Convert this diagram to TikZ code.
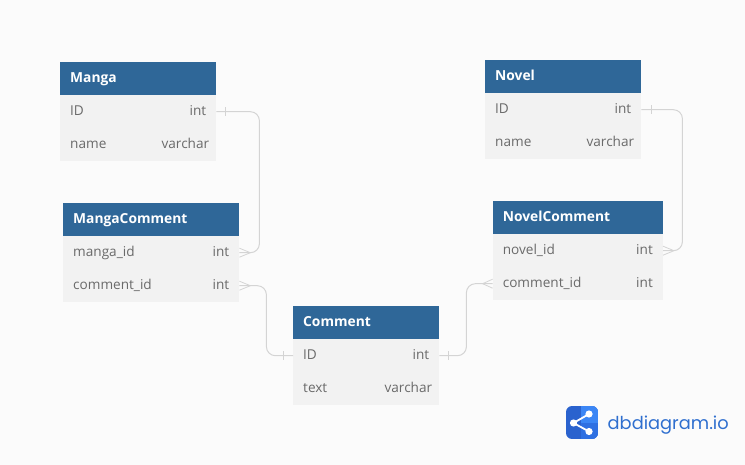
\documentclass[tikz,border=0pt]{standalone}
\usepackage{fontspec}
\setmainfont{Open Sans}
\newfontfamily\logofont{Poppins}
\definecolor{bgc}{HTML}{FBFBFB}
\definecolor{headc}{HTML}{2F6798}
\definecolor{rowc}{HTML}{F2F2F2}
\definecolor{txtc}{HTML}{6A6A6A}
\definecolor{linec}{HTML}{D4D4D4}
\definecolor{logoa}{HTML}{2A62CE}
\definecolor{logob}{HTML}{3B86F5}
\definecolor{logoc}{HTML}{2F70E2}
\definecolor{logot}{HTML}{2F6FCF}
\tikzset{
  x=1pt,y=-1pt,
  head/.style={anchor=north west,inner sep=0pt,fill=headc,minimum height=33pt},
  rowbox/.style={anchor=north west,inner sep=0pt,fill=rowc,minimum height=33pt},
  lab/.style={inner sep=0pt,text=txtc,font=\fontsize{13.6}{14}\selectfont},
  conn/.style={draw=linec,line width=1pt,rounded corners=9pt},
  mk/.style={draw=linec,line width=0.8pt}
}
\newcommand{\tablehead}[5]{% name, x, y, width, text
  \node[head,minimum width=#4pt] (#1) at (#2,#3) {};
  \node[anchor=base west,inner sep=0pt,text=white,font=\fontsize{13.8}{14}\selectfont\bfseries] (#1t) at ([xshift=10pt,yshift=-3.4pt]#1.west) {#5};
}
\newcommand{\tablerow}[7]{% name, x, y, width, left, right, right margin
  \node[rowbox,minimum width=#4pt] (#1) at (#2,#3) {};
  \node[lab,anchor=base west] (#1l) at ([xshift=10pt,yshift=-3.6pt]#1.west) {#5};
  \node[lab,anchor=base east] (#1r) at ([xshift=-#7pt,yshift=-3.6pt]#1.east) {#6};
}
\newcommand{\crowR}[1]{\draw[mk] (#1) ++(11,0) -- ++(-11,-4.5) ++(11,4.5) -- ++(-11,4.5);}
\newcommand{\crowL}[1]{\draw[mk] (#1) ++(-10,0) -- ++(10,-4.5) ++(-10,4.5) -- ++(10,4.5);}
\begin{document}
\begin{tikzpicture}
\useasboundingbox (0,0) rectangle (745,465);
\fill[bgc] (0,0) rectangle (745,465);
% Manga
\tablehead{manga}{60}{62}{156}{Manga}
\tablerow{mangaid}{60}{95}{156}{ID}{int}{10}
\tablerow{manganame}{60}{128}{156}{name}{varchar}{7}
% MangaComment
\tablehead{mc}{63}{203}{176}{MangaComment}
\tablerow{mcmanga}{63}{236}{176}{manga\_id}{int}{10}
\tablerow{mccomment}{63}{269}{176}{comment\_id}{int}{10}
% Novel
\tablehead{novel}{485}{60}{156}{Novel}
\tablerow{novelid}{485}{93}{156}{ID}{int}{10}
\tablerow{novelname}{485}{126}{156}{name}{varchar}{7}
% NovelComment
\tablehead{nc}{492.6}{201}{170}{NovelComment}
\tablerow{ncnovel}{492.6}{234}{170}{novel\_id}{int}{10}
\tablerow{nccomment}{492.6}{267}{170}{comment\_id}{int}{10}
% Comment
\tablehead{comment}{293}{306}{146}{Comment}
\tablerow{commentid}{293}{339}{146}{ID}{int}{10}
\tablerow{commenttext}{293}{372}{146}{text}{varchar}{7}
% connectors
\draw[conn] (mangaid.east) -- ++(43,0) |- (mcmanga.east);
\draw[conn] (mccomment.east) -- ++(27,0) |- (commentid.west);
\draw[conn] (commentid.east) -- ++(27,0) |- (nccomment.west);
\draw[conn] (novelid.east) -- ++(41,0) |- (ncnovel.east);
% markers
\draw[mk] (mangaid.east) ++(9,-4.5) -- ++(0,9);
\draw[mk] (novelid.east) ++(10,-4.5) -- ++(0,9);
\draw[mk] (commentid.west) ++(-10,-4.5) -- ++(0,9);
\draw[mk] (commentid.east) ++(9,-4.5) -- ++(0,9);
\crowR{mcmanga.east}
\crowR{mccomment.east}
\crowR{ncnovel.east}
\crowL{nccomment.west}
% logo
\begin{scope}
\clip[rounded corners=6pt] (566,406) rectangle (598,439);
\fill[logoa] (566,406) rectangle (598,439);
\fill[logoc] (581,422.5) rectangle (598,439);
\fill[logob] (581,406) rectangle (598,422.5);
\end{scope}
\draw[white,line width=1.8pt] (589,414) -- (573.5,423) -- (589,431.5);
\fill[white] (573.5,423) circle (3.6);
\fill[white] (589,414) circle (3.6);
\fill[white] (589,431.5) circle (3.6);
\node[inner sep=0pt,anchor=base west,text=logot,font=\logofont\fontsize{17.8}{20}\selectfont] (logotext) at (607.5,429) {dbdiagram.io};
\end{tikzpicture}
\end{document}
